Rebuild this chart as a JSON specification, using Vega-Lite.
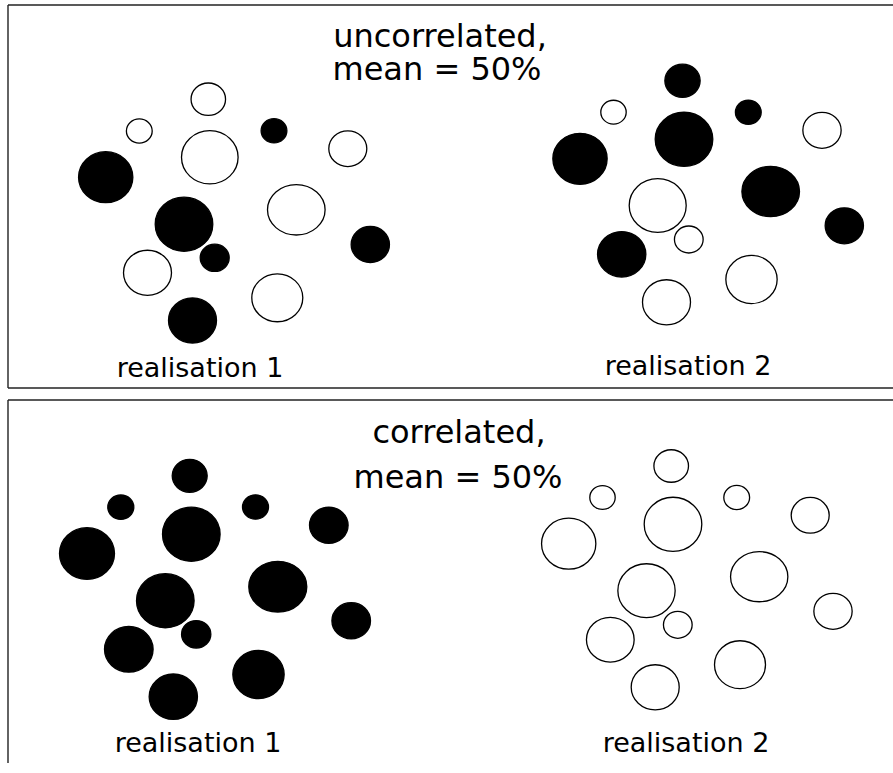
{
  "$schema": "https://vega.github.io/schema/vega-lite/v6.json",
  "width": 893,
  "height": 773,
  "autosize": {"type": "none"},
  "padding": 0,
  "background": "white",
  "view": {"stroke": null},
  "config": {"axis": {"disable": true}},
  "datasets": {
    "borders": [
      {"x": 8, "y": 5, "x2": 893, "y2": 5},
      {"x": 8, "y": 5, "x2": 8, "y2": 388},
      {"x": 8, "y": 388, "x2": 893, "y2": 388},
      {"x": 8, "y": 400, "x2": 893, "y2": 400},
      {"x": 8, "y": 400, "x2": 8, "y2": 763}
    ],
    "cells": [
      {"x": 208.3, "y": 99.2, "w": 34.5, "state": "open", "form": "round"},
      {"x": 139.3, "y": 131, "w": 25.8, "state": "open", "form": "round"},
      {"x": 209.8, "y": 157.3, "w": 56.6, "state": "open", "form": "round"},
      {"x": 274, "y": 130.8, "w": 25.8, "state": "filled", "form": "round"},
      {"x": 347.8, "y": 148.7, "w": 38, "state": "open", "form": "round"},
      {"x": 105.7, "y": 177.2, "w": 54.3, "state": "filled", "form": "round"},
      {"x": 296.3, "y": 209.8, "w": 57.6, "state": "open", "form": "flat"},
      {"x": 184, "y": 224.2, "w": 57.6, "state": "filled", "form": "round"},
      {"x": 214.7, "y": 257.8, "w": 29, "state": "filled", "form": "round"},
      {"x": 370.3, "y": 244.5, "w": 38.3, "state": "filled", "form": "round"},
      {"x": 147.5, "y": 272.8, "w": 48, "state": "open", "form": "round"},
      {"x": 277.3, "y": 297.8, "w": 51, "state": "open", "form": "round"},
      {"x": 192.5, "y": 320.5, "w": 48, "state": "filled", "form": "round"},

      {"x": 682.5, "y": 80.8, "w": 35.3, "state": "filled", "form": "round"},
      {"x": 613.5, "y": 112.2, "w": 25.4, "state": "open", "form": "round"},
      {"x": 748.3, "y": 112.2, "w": 25.8, "state": "filled", "form": "round"},
      {"x": 684, "y": 139.3, "w": 57.6, "state": "filled", "form": "round"},
      {"x": 822, "y": 130.3, "w": 38.3, "state": "open", "form": "round"},
      {"x": 580, "y": 158.8, "w": 54.3, "state": "filled", "form": "round"},
      {"x": 770.7, "y": 191.5, "w": 57.6, "state": "filled", "form": "flat"},
      {"x": 657.7, "y": 205.5, "w": 57, "state": "open", "form": "round"},
      {"x": 688.8, "y": 239.5, "w": 28.7, "state": "open", "form": "round"},
      {"x": 844.3, "y": 225.8, "w": 38.3, "state": "filled", "form": "round"},
      {"x": 621.7, "y": 254.3, "w": 48.3, "state": "filled", "form": "round"},
      {"x": 751.5, "y": 279.5, "w": 51.3, "state": "open", "form": "round"},
      {"x": 666.5, "y": 302.3, "w": 48, "state": "open", "form": "round"},

      {"x": 189.7, "y": 475.8, "w": 35, "state": "filled", "form": "round"},
      {"x": 120.8, "y": 507.2, "w": 26, "state": "filled", "form": "round"},
      {"x": 255.5, "y": 507, "w": 26, "state": "filled", "form": "round"},
      {"x": 191.3, "y": 534.2, "w": 57.6, "state": "filled", "form": "round"},
      {"x": 328.8, "y": 525.2, "w": 38.6, "state": "filled", "form": "round"},
      {"x": 87, "y": 553.5, "w": 55, "state": "filled", "form": "round"},
      {"x": 277.8, "y": 586.7, "w": 58, "state": "filled", "form": "flat"},
      {"x": 165.3, "y": 600.7, "w": 57.6, "state": "filled", "form": "round"},
      {"x": 196.2, "y": 634.3, "w": 29.3, "state": "filled", "form": "round"},
      {"x": 351.2, "y": 620.8, "w": 38.6, "state": "filled", "form": "round"},
      {"x": 128.8, "y": 649.3, "w": 48.6, "state": "filled", "form": "round"},
      {"x": 258.5, "y": 674.5, "w": 51.3, "state": "filled", "form": "round"},
      {"x": 173.3, "y": 696.7, "w": 48.3, "state": "filled", "form": "round"},

      {"x": 671.2, "y": 466, "w": 34.6, "state": "open", "form": "round"},
      {"x": 602.5, "y": 497.5, "w": 25.4, "state": "open", "form": "round"},
      {"x": 736.7, "y": 497.5, "w": 25.8, "state": "open", "form": "round"},
      {"x": 673, "y": 524.3, "w": 57.6, "state": "open", "form": "round"},
      {"x": 810.2, "y": 515.3, "w": 38, "state": "open", "form": "round"},
      {"x": 568.7, "y": 543.7, "w": 54.3, "state": "open", "form": "round"},
      {"x": 759.2, "y": 576.7, "w": 57.3, "state": "open", "form": "flat"},
      {"x": 646.5, "y": 590.7, "w": 57.3, "state": "open", "form": "round"},
      {"x": 677.8, "y": 624.8, "w": 28.7, "state": "open", "form": "round"},
      {"x": 833, "y": 611.3, "w": 38.3, "state": "open", "form": "round"},
      {"x": 610.3, "y": 639.7, "w": 47.7, "state": "open", "form": "round"},
      {"x": 740, "y": 664.7, "w": 51, "state": "open", "form": "round"},
      {"x": 655.2, "y": 687.3, "w": 48, "state": "open", "form": "round"}
    ],
    "titles": [
      {"text": "uncorrelated,", "x": 440, "y": 47},
      {"text": "mean = 50%", "x": 437, "y": 80},
      {"text": "correlated,", "x": 459, "y": 443},
      {"text": "mean = 50%", "x": 458, "y": 488}
    ],
    "labels": [
      {"text": "realisation 1", "x": 200, "y": 377},
      {"text": "realisation 2", "x": 688, "y": 375},
      {"text": "realisation 1", "x": 198, "y": 752},
      {"text": "realisation 2", "x": 686, "y": 752}
    ]
  },
  "layer": [
    {
      "data": {"name": "borders"},
      "mark": {"type": "rule", "stroke": "#222222", "strokeWidth": 1.4},
      "encoding": {
        "x": {"field": "x", "type": "quantitative", "scale": {"domain": [0, 893], "range": [0, 893]}},
        "y": {"field": "y", "type": "quantitative", "scale": {"domain": [0, 773], "range": [0, 773]}},
        "x2": {"field": "x2"},
        "y2": {"field": "y2"}
      }
    },
    {
      "data": {"name": "cells"},
      "mark": {"type": "point", "filled": false, "stroke": "black", "strokeWidth": 1.3, "opacity": 1},
      "encoding": {
        "x": {"field": "x", "type": "quantitative", "scale": {"domain": [0, 893], "range": [0, 893]}},
        "y": {"field": "y", "type": "quantitative", "scale": {"domain": [0, 773], "range": [0, 773]}},
        "size": {"field": "w", "type": "quantitative", "scale": {"type": "pow", "exponent": 2, "domain": [0, 100], "range": [0, 10000]}, "legend": null},
        "fill": {"field": "state", "type": "nominal", "scale": {"domain": ["filled", "open"], "range": ["black", "white"]}, "legend": null},
        "shape": {"field": "form", "type": "nominal", "scale": {"domain": ["round", "flat"], "range": ["M-1,0A1,0.94,0,1,1,1,0A1,0.94,0,1,1,-1,0Z", "M-1,0A1,0.875,0,1,1,1,0A1,0.875,0,1,1,-1,0Z"]}, "legend": null}
      }
    },
    {
      "data": {"name": "titles"},
      "mark": {"type": "text", "font": "DejaVu Sans", "fontSize": 32, "align": "center", "baseline": "alphabetic", "color": "black"},
      "encoding": {
        "x": {"field": "x", "type": "quantitative", "scale": {"domain": [0, 893], "range": [0, 893]}},
        "y": {"field": "y", "type": "quantitative", "scale": {"domain": [0, 773], "range": [0, 773]}},
        "text": {"field": "text"}
      }
    },
    {
      "data": {"name": "labels"},
      "mark": {"type": "text", "font": "DejaVu Sans", "fontSize": 27, "align": "center", "baseline": "alphabetic", "color": "black"},
      "encoding": {
        "x": {"field": "x", "type": "quantitative", "scale": {"domain": [0, 893], "range": [0, 893]}},
        "y": {"field": "y", "type": "quantitative", "scale": {"domain": [0, 773], "range": [0, 773]}},
        "text": {"field": "text"}
      }
    }
  ]
}
